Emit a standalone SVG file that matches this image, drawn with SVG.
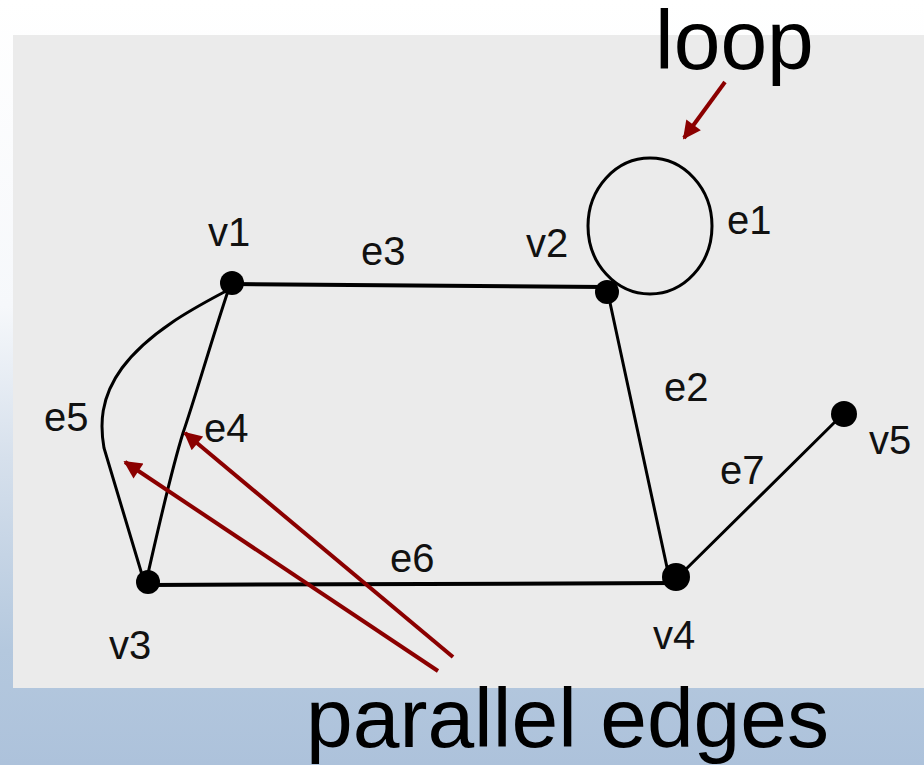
<svg xmlns="http://www.w3.org/2000/svg" width="924" height="765" viewBox="0 0 924 765">
<defs>
<linearGradient id="bg" x1="0" y1="0" x2="0" y2="1">
<stop offset="0" stop-color="#ffffff"/>
<stop offset="0.4" stop-color="#f6f8fb"/>
<stop offset="0.6" stop-color="#d6e0ec"/>
<stop offset="0.85" stop-color="#b4c8de"/>
<stop offset="1" stop-color="#adc2db"/>
</linearGradient>
<marker id="ah" viewBox="0 0 10 10" refX="9" refY="5" markerWidth="5" markerHeight="4.5" markerUnits="strokeWidth" orient="auto">
<path d="M0,0 L10,5 L0,10 Z" fill="#8b0000"/>
</marker>
</defs>
<style>
.edge{fill:none;stroke:#000;stroke-width:3;stroke-linecap:round}
.thick{stroke-width:4}
.node{fill:#000}
.lbl{font-family:"Liberation Sans",Arial,sans-serif;font-size:40px;fill:#111}
.big{font-family:"Liberation Sans",Arial,sans-serif;font-size:84px;fill:#000}
.callout{stroke:#8b0000;stroke-width:4;fill:none;marker-end:url(#ah)}
</style>
<rect width="924" height="765" fill="url(#bg)"/>
<rect x="13" y="35" width="911" height="653" fill="#ebebeb"/>
<g id="connectors">
<path id="e3" class="edge thick" d="M232,284 L604,287"/>
<path id="e6" class="edge thick" d="M148,585 L676,583"/>
<path id="e2" class="edge" d="M609,298 L668,572"/>
<path id="e7" class="edge" d="M678,577 L843,414"/>
<path id="e4" class="edge" d="M229,288 C210,345 196,395 183,433 C170,475 158,530 147,578"/>
<path id="e5" class="edge" d="M228,290 C200,305 150,330 122,368 C100,398 100,425 104,448 L143,578"/>
<ellipse id="e1" class="edge" cx="650" cy="226" rx="62" ry="68"/>
</g>
<g id="v1"><circle class="node" cx="232" cy="283" r="12"/><text class="lbl" x="208" y="246">v1</text></g>
<g id="v2"><circle class="node" cx="607" cy="292" r="12"/><text class="lbl" x="526" y="257">v2</text></g>
<g id="v3"><circle class="node" cx="148" cy="582" r="12"/><text class="lbl" x="109" y="659">v3</text></g>
<g id="v4"><circle class="node" cx="676" cy="577" r="14"/><text class="lbl" x="653" y="649">v4</text></g>
<g id="v5"><circle class="node" cx="844" cy="414" r="13"/><text class="lbl" x="869" y="454">v5</text></g>
<g id="edge-labels">
<text class="lbl" x="361" y="265">e3</text>
<text class="lbl" x="727" y="234">e1</text>
<text class="lbl" x="664" y="401">e2</text>
<text class="lbl" x="44" y="431">e5</text>
<text class="lbl" x="204" y="442">e4</text>
<text class="lbl" x="720" y="484">e7</text>
<text class="lbl" x="390" y="572">e6</text>
</g>
<g id="annotations">
<text class="big" x="655" y="69">loop</text>
<text class="big" x="306" y="747">parallel edges</text>
<path class="callout" d="M725,82 L684,138"/>
<path class="callout" d="M453,657 L185,433"/>
<path class="callout" d="M438,671 L125,462"/>
</g>
</svg>
